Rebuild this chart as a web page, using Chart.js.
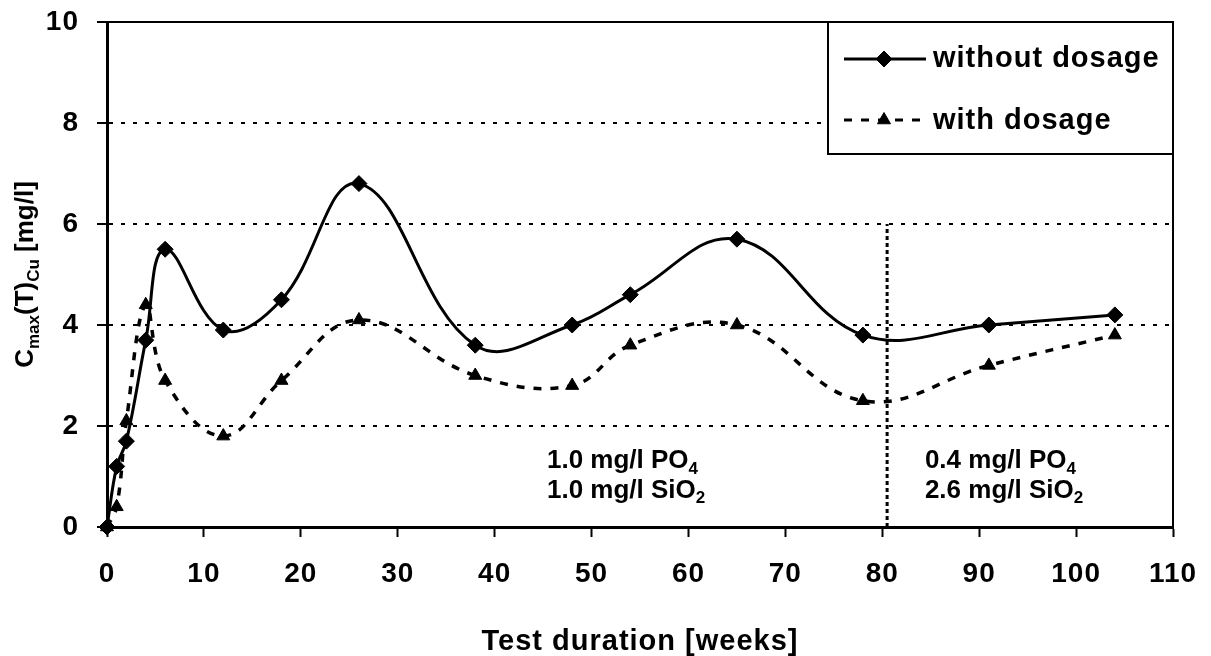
<!DOCTYPE html>
<html>
<head>
<meta charset="utf-8">
<title>Copper concentration with and without dosage</title>
<script src="https://cdn.jsdelivr.net/npm/chart.js@4.4.1/dist/chart.umd.min.js"></script>
<style>
  html, body { margin: 0; padding: 0; background: #fff; }
  canvas { display: block; }
</style>
</head>
<body>
<canvas id="copperChart" width="1211" height="656"></canvas>
<script>
//Test weeks where samples were taken
const weeks = [0, 1, 2, 4, 6, 12, 18, 26, 38, 48, 54, 65, 78, 91, 104];

//Cmax(T)Cu in mg/l for each week
const withoutDosage = [0, 1.2, 1.7, 3.7, 5.5, 3.9, 4.5, 6.8, 3.6, 4.0, 4.6, 5.7, 3.8, 4.0, 4.2];
const withDosage = [0, 0.4, 2.1, 4.4, 2.9, 1.8, 2.9, 4.1, 3.0, 2.8, 3.6, 4.0, 2.5, 3.2, 3.8];

const seriesNames = ["without dosage", "with dosage"];

//Week where the dosage was changed, line goes up to 6 mg/l
const dosageChangeWeek = 80.5;
const dosageChangeTop = 6;

//Axis ranges
const xMin = 0, xMax = 110, xStep = 10;
const yMin = 0, yMax = 10, yStep = 2;

const BOLD = "'Liberation Sans', Arial, sans-serif";

function toPoints(xs, ys) {
  return xs.map((x, i) => ({ x: x, y: ys[i] }));
}

function setSpacing(ctx, px) {
  if ("letterSpacing" in ctx) ctx.letterSpacing = px + "px";
}

//Draws text with subscript parts, e.g. PO4
function drawRichText(ctx, parts, x, y, size, subSize) {
  parts.forEach((p) => {
    ctx.font = `bold ${p.sub ? subSize : size}px ${BOLD}`;
    ctx.fillText(p.t, x, p.sub ? y + size * 0.22 : y);
    x += ctx.measureText(p.t).width;
  });
}

function richWidth(ctx, parts, size, subSize) {
  let w = 0;
  parts.forEach((p) => {
    ctx.font = `bold ${p.sub ? subSize : size}px ${BOLD}`;
    w += ctx.measureText(p.t).width;
  });
  return w;
}

//Plot frame, legend box, notes and the y title
const extrasPlugin = {
  id: "extras",
  beforeDraw(chart) {
    //the axis texts in the picture are a bit wider
    setSpacing(chart.ctx, 1);
  },
  beforeDatasetsDraw(chart) {
    const { ctx, chartArea: a } = chart;
    ctx.save();
    ctx.strokeStyle = "#000";
    ctx.lineWidth = 2;
    ctx.beginPath();
    ctx.moveTo(a.left, a.top);
    ctx.lineTo(a.right, a.top);
    ctx.lineTo(a.right, a.bottom);
    ctx.stroke();
    ctx.restore();
  },
  afterDraw(chart) {
    const { ctx, chartArea: a, scales } = chart;
    const xs = scales.x, ys = scales.y;
    ctx.save();
    setSpacing(ctx, 0);
    ctx.fillStyle = "#000";
    ctx.textBaseline = "alphabetic";

    //Dosage notes
    const notes = [
      { x: 45.4, lines: [
        [{ t: "1.0 mg/l PO" }, { t: "4", sub: true }],
        [{ t: "1.0 mg/l SiO" }, { t: "2", sub: true }]
      ] },
      { x: 84.4, lines: [
        [{ t: "0.4 mg/l PO" }, { t: "4", sub: true }],
        [{ t: "2.6 mg/l SiO" }, { t: "2", sub: true }]
      ] }
    ];
    notes.forEach((n) => {
      const left = xs.getPixelForValue(n.x);
      drawRichText(ctx, n.lines[0], left, ys.getPixelForValue(1.17), 26, 17);
      drawRichText(ctx, n.lines[1], left, ys.getPixelForValue(0.58), 26, 17);
    });

    //Legend box
    const boxL = 828, boxT = a.top, boxR = a.right, boxB = 154;
    ctx.fillStyle = "#fff";
    ctx.fillRect(boxL, boxT, boxR - boxL, boxB - boxT);
    ctx.strokeStyle = "#000";
    ctx.lineWidth = 2;
    ctx.strokeRect(boxL, boxT, boxR - boxL, boxB - boxT);

    const rows = [
      { y: 59, dash: [], style: "rectRot", r: 8, label: seriesNames[0], base: 67 },
      { y: 120, dash: [8, 9], style: "triangle", r: 7.5, label: seriesNames[1], base: 129 }
    ];
    rows.forEach((row) => {
      ctx.save();
      ctx.strokeStyle = "#000";
      ctx.lineWidth = 3;
      ctx.setLineDash(row.dash);
      ctx.beginPath();
      ctx.moveTo(844, row.y);
      ctx.lineTo(926, row.y);
      ctx.stroke();
      ctx.restore();
      ctx.fillStyle = "#000";
      ctx.strokeStyle = "#000";
      ctx.lineWidth = 1;
      Chart.helpers.drawPoint(ctx, { pointStyle: row.style, radius: row.r, borderWidth: 1 }, 884, row.y);
      ctx.font = `bold 29px ${BOLD}`;
      setSpacing(ctx, 1);
      ctx.fillText(row.label, 933, row.base);
      setSpacing(ctx, 0);
    });

    //Y axis title with subscripts
    const titleParts = [
      { t: "C" }, { t: "max", sub: true }, { t: "(T)" }, { t: "Cu", sub: true }, { t: " [mg/l]" }
    ];
    ctx.fillStyle = "#000";
    ctx.translate(23, (a.top + a.bottom) / 2);
    ctx.rotate(-Math.PI / 2);
    const w = richWidth(ctx, titleParts, 26, 17);
    drawRichText(ctx, titleParts, -w / 2, 10, 26, 17);
    ctx.restore();
  }
};

const chart = new Chart(document.getElementById("copperChart"), {
  type: "line",
  data: {
    datasets: [
      {
        label: seriesNames[0],
        data: toPoints(weeks, withoutDosage),
        borderColor: "#000",
        backgroundColor: "#000",
        borderWidth: 3,
        tension: 0.4,
        pointStyle: "rectRot",
        pointRadius: 8,
        pointBorderWidth: 1,
        clip: false
      },
      {
        label: seriesNames[1],
        data: toPoints(weeks, withDosage),
        borderColor: "#000",
        backgroundColor: "#000",
        borderWidth: 3.5,
        borderDash: [8, 9],
        tension: 0.4,
        pointStyle: "triangle",
        pointRadius: 7.5,
        pointBorderWidth: 1,
        clip: false
      },
      {
        label: "dosage change",
        data: [{ x: dosageChangeWeek, y: 0 }, { x: dosageChangeWeek, y: dosageChangeTop }],
        borderColor: "#000",
        borderWidth: 3,
        borderDash: [4, 3],
        pointRadius: 0,
        tension: 0
      }
    ]
  },
  options: {
    responsive: false,
    animation: false,
    layout: { padding: { top: 22, right: 38, left: 0, bottom: 0 } },
    plugins: {
      legend: { display: false },
      tooltip: { enabled: false }
    },
    scales: {
      x: {
        type: "linear",
        min: xMin,
        max: xMax,
        afterFit: (scale) => {
          scale.height = 129;
          scale.paddingLeft = 0;
          scale.paddingRight = 0;
        },
        ticks: {
          stepSize: xStep,
          color: "#000",
          padding: 20,
          maxRotation: 0,
          font: { family: BOLD, size: 28, weight: "bold" }
        },
        grid: {
          drawOnChartArea: false,
          tickLength: 10,
          tickColor: "#000",
          tickWidth: 2
        },
        border: { color: "#000", width: 3 },
        title: {
          display: true,
          text: "Test duration [weeks]",
          color: "#000",
          padding: { top: 0, bottom: 0 },
          font: { family: BOLD, size: 29, weight: "bold", lineHeight: 1 }
        }
      },
      y: {
        min: yMin,
        max: yMax,
        afterFit: (scale) => {
          scale.width = 107;
          scale.paddingTop = 0;
          scale.paddingBottom = 0;
        },
        ticks: {
          stepSize: yStep,
          color: "#000",
          padding: 18,
          font: { family: BOLD, size: 28, weight: "bold" }
        },
        grid: {
          color: (c) => (c.tick && (c.tick.value === yMin || c.tick.value === yMax) ? "rgba(0,0,0,0)" : "#000"),
          lineWidth: 2,
          tickLength: 10,
          tickColor: "#000",
          tickWidth: 2,
          tickBorderDash: []
        },
        border: { color: "#000", width: 3, dash: [4, 8] }
      }
    }
  },
  plugins: [extrasPlugin]
});
</script>
</body>
</html>
